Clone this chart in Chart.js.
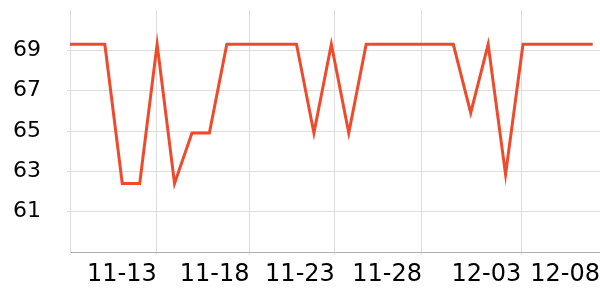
<!DOCTYPE html>
<html>
<head>
<meta charset="utf-8">
<script src="https://cdn.jsdelivr.net/npm/chart.js@4"></script>
<style>
    html, body { margin: 0; padding: 0; background: #fff; }
    canvas { display: block; }
</style>
</head>
<body>
<canvas id="lineChart" width="600" height="300"></canvas>
<script>
// one value per day
const values = [
    69.3, 69.3, 69.3, 62.4, 62.4, 69.3, 62.4, 64.9, 64.9, 69.3,
    69.3, 69.3, 69.3, 69.3, 64.9, 69.3, 64.9, 69.3, 69.3, 69.3,
    69.3, 69.3, 69.3, 65.9, 69.3, 62.85, 69.3, 69.3, 69.3, 69.3,
    69.3
];

// where the date ticks fall on the day index axis
const tickAt = [0, 4.98, 10.3, 15.2, 20.2, 25.9, 30.42];
const tickLabels = ['', '11-13', '11-18', '11-23', '11-28', '12-03', '12-08'];

const yTicks = [61, 63, 65, 67, 69];

const lineColor = '#ef4a2b';
const gridColor = '#dddddd';

// scales should not ask for extra room around the plot
function noPadding(scale) {
    scale.paddingTop = 0;
    scale.paddingBottom = 0;
    scale.paddingLeft = 0;
    scale.paddingRight = 0;
}

window.onload = () => {
    const ctx = document.getElementById('lineChart').getContext('2d');

    new Chart(ctx, {
        type: 'line',
        data: {
            datasets: [{
                data: values.map((v, i) => ({ x: i, y: v })),
                borderColor: lineColor,
                backgroundColor: lineColor,
                borderWidth: 3,
                pointRadius: 0,
                tension: 0,
                fill: false
            }]
        },
        options: {
            responsive: false,
            animation: false,
            layout: {
                padding: { left: 13, top: 10, right: 0, bottom: 0 }
            },
            plugins: {
                legend: { display: false },
                tooltip: { enabled: false }
            },
            scales: {
                x: {
                    type: 'linear',
                    min: 0,
                    max: tickAt[tickAt.length - 1],
                    afterBuildTicks: (scale) => {
                        scale.ticks = tickAt.map(v => ({ value: v }));
                    },
                    afterFit: (scale) => {
                        scale.height = 48;
                        noPadding(scale);
                    },
                    grid: {
                        color: gridColor,
                        tickLength: 3
                    },
                    border: { color: '#b0b0b0' },
                    ticks: {
                        align: 'end',
                        maxRotation: 0,
                        autoSkip: false,
                        padding: 5,
                        color: '#000',
                        font: { family: 'DejaVu Sans', size: 24 },
                        callback: (value, index) => tickLabels[index]
                    }
                },
                y: {
                    min: 59,
                    max: 71,
                    afterBuildTicks: (scale) => {
                        scale.ticks = yTicks.map(v => ({ value: v }));
                    },
                    afterFit: (scale) => {
                        scale.width = 57;
                        noPadding(scale);
                    },
                    grid: {
                        color: gridColor,
                        tickLength: 3
                    },
                    border: { color: gridColor },
                    ticks: {
                        crossAlign: 'far',
                        padding: 0,
                        color: '#000',
                        font: { family: 'DejaVu Sans', size: 22 }
                    }
                }
            }
        }
    });
};
</script>
</body>
</html>
